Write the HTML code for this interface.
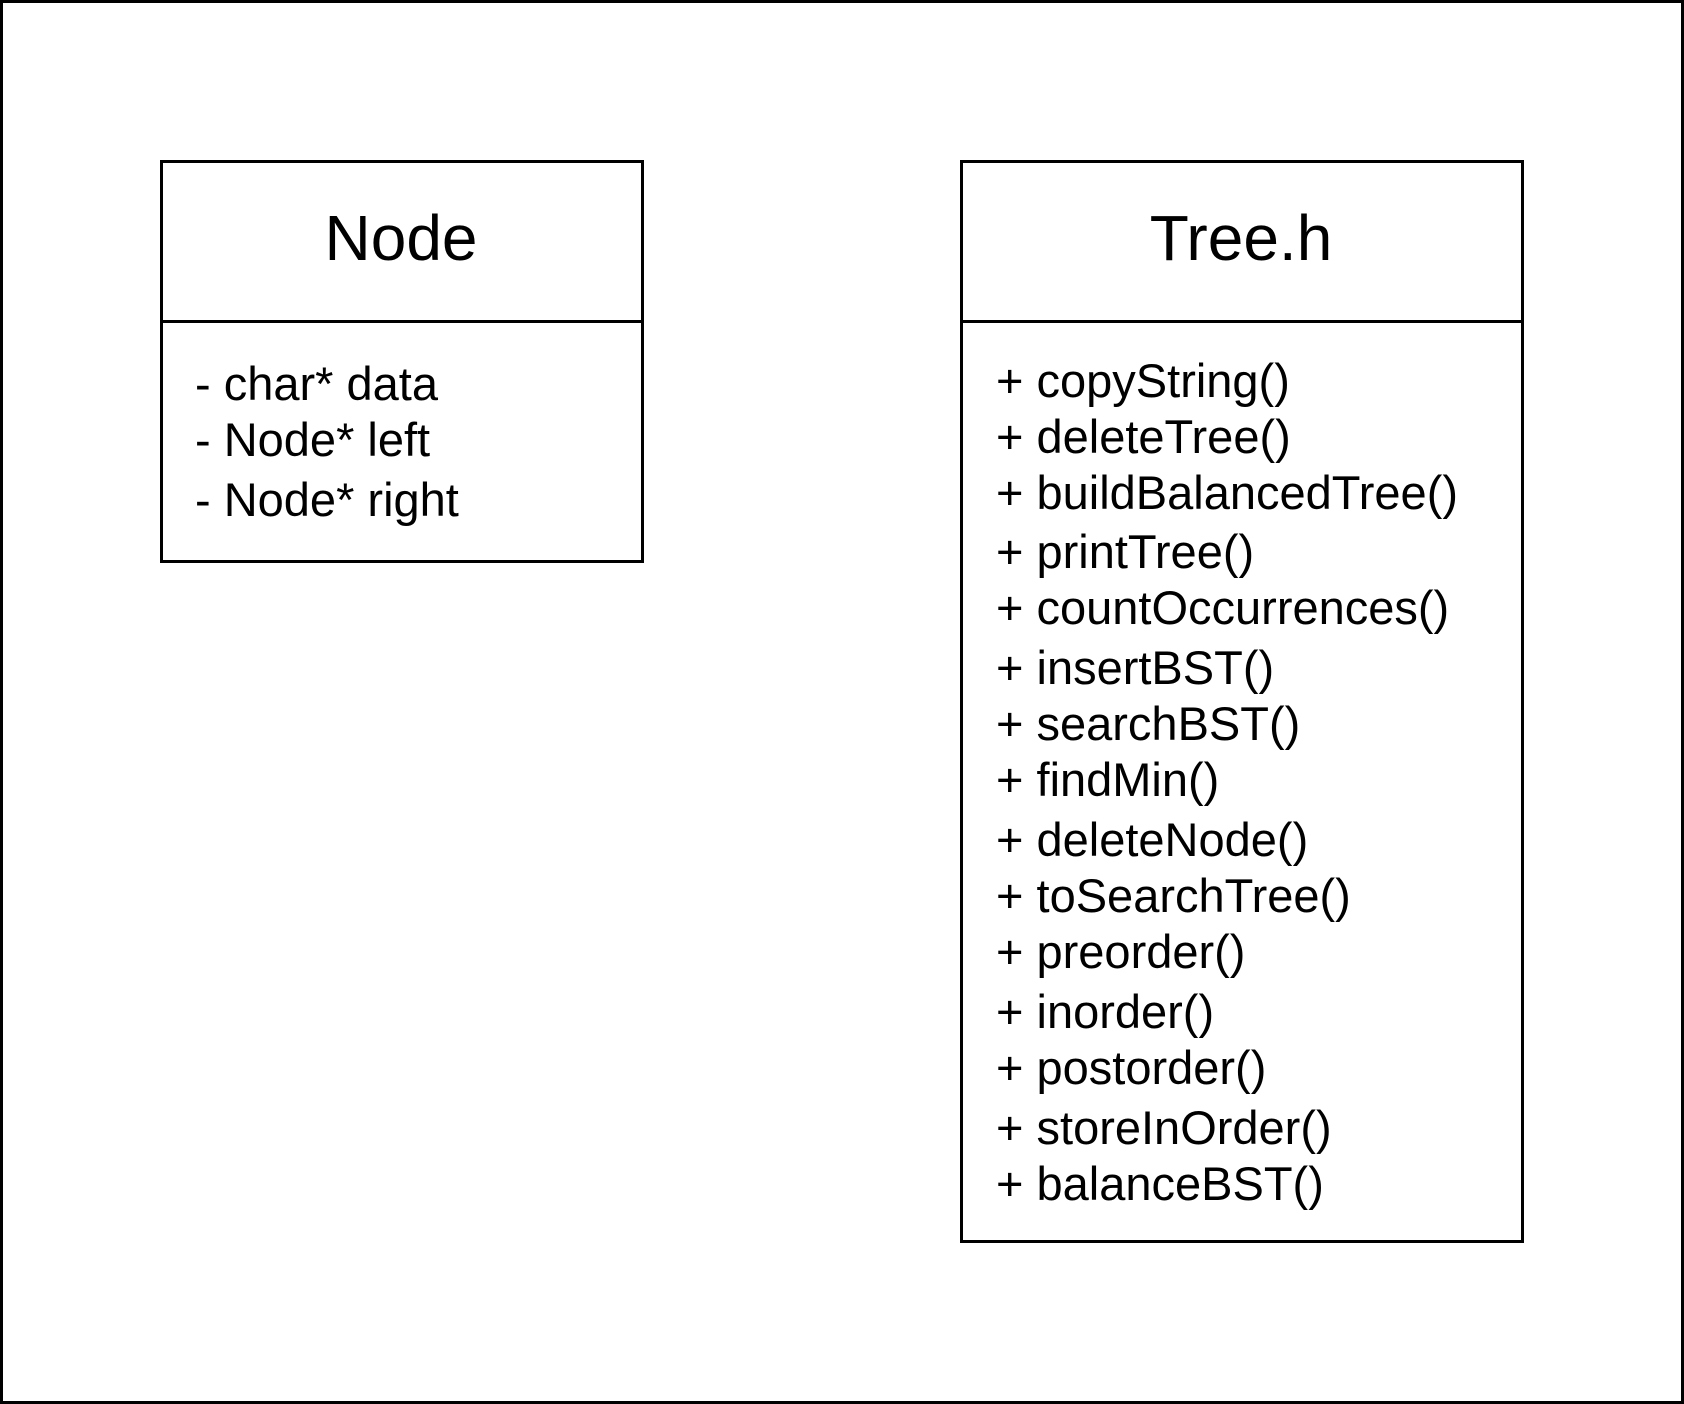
<!DOCTYPE html>
<html><head><style>
html,body{margin:0;padding:0;background:#fff;}
body{width:1684px;height:1404px;position:relative;overflow:hidden;font-family:"Liberation Sans",Arial,sans-serif;color:#000;}
.frame{position:absolute;left:0;top:0;width:1678px;height:1398px;border:3px solid #000;}
.box{position:absolute;border:3px solid #000;box-sizing:border-box;}
.div{position:absolute;left:0;right:0;height:3px;background:#000;}
.title{position:absolute;left:0;right:0;text-align:center;font-size:64px;line-height:64px;}
.l{position:absolute;font-size:47px;line-height:47px;white-space:nowrap;}
</style></head><body>
<div class="frame"></div>
<div class="box" style="left:160px;top:160px;width:484px;height:403px;">
  <div class="title" style="top:43px;left:-2px;">Node</div>
  <div class="div" style="top:157px;"></div>
  <div class="l" style="left:32px;top:197px;">- char* data</div>
  <div class="l" style="left:32px;top:253px;">- Node* left</div>
  <div class="l" style="left:32px;top:313px;">- Node* right</div>
</div>
<div class="box" style="left:960px;top:160px;width:564px;height:1083px;">
  <div class="title" style="top:43px;left:-2px;">Tree.h</div>
  <div class="div" style="top:157px;"></div>
  <div class="l" style="left:33px;top:194px;">+ copyString()</div>
  <div class="l" style="left:33px;top:250px;">+ deleteTree()</div>
  <div class="l" style="left:33px;top:306px;">+ buildBalancedTree()</div>
  <div class="l" style="left:33px;top:365px;">+ printTree()</div>
  <div class="l" style="left:33px;top:421px;">+ countOccurrences()</div>
  <div class="l" style="left:33px;top:481px;">+ insertBST()</div>
  <div class="l" style="left:33px;top:537px;">+ searchBST()</div>
  <div class="l" style="left:33px;top:593px;">+ findMin()</div>
  <div class="l" style="left:33px;top:653px;">+ deleteNode()</div>
  <div class="l" style="left:33px;top:709px;">+ toSearchTree()</div>
  <div class="l" style="left:33px;top:765px;">+ preorder()</div>
  <div class="l" style="left:33px;top:825px;">+ inorder()</div>
  <div class="l" style="left:33px;top:881px;">+ postorder()</div>
  <div class="l" style="left:33px;top:941px;">+ storeInOrder()</div>
  <div class="l" style="left:33px;top:997px;">+ balanceBST()</div>
</div>
</body></html>
